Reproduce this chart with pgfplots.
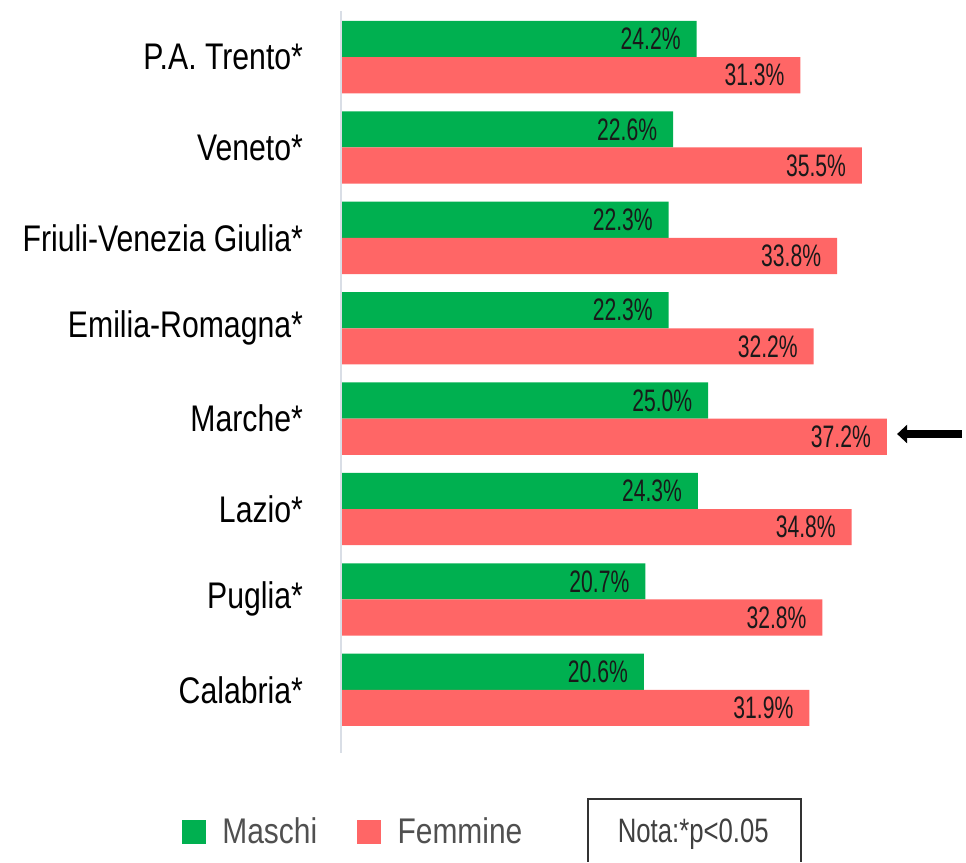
\documentclass[border=0pt]{standalone}
\usepackage{fontspec}
\setmainfont{Liberation Sans}[FakeStretch=0.815]
\newfontfamily\valfont{Liberation Sans}[FakeStretch=0.68]
\newfontfamily\legfont{Liberation Sans}[FakeStretch=0.84]
\newfontfamily\notafont{Liberation Sans}[FakeStretch=0.76]
\usepackage{pgfplots}
\pgfplotsset{compat=1.18}
\usetikzlibrary{arrows.meta}
\definecolor{cgreen}{RGB}{0,176,80}
\definecolor{cred}{RGB}{255,102,102}
\definecolor{axgray}{RGB}{217,222,230}
\definecolor{leggray}{RGB}{80,80,80}
\begin{document}
\begin{tikzpicture}
\begin{axis}[
  xbar,
  x=7.35pt, y=45.37pt,
  xmin=0, xmax=42.3, ymin=-1.901, ymax=7.632,
  axis line style={draw=none},
  tick style={draw=none},
  major tick length=0pt,
  xtick=\empty,
  ytick={0,...,7},
  yticklabels={Calabria*,Puglia*,Lazio*,Marche*,Emilia-Romagna*,Friuli-Venezia Giulia*,Veneto*,P.A. Trento*},
  yticklabel style={anchor=east, inner sep=0pt, xshift=-19.5pt, font=\fontsize{18.6}{20}\selectfont, text=black},
  bar width=18.15pt,
  clip=false,
  point meta=explicit symbolic,
  nodes near coords,
  every node near coord/.append style={anchor=east, xshift=-7.8pt, inner sep=0pt, font=\valfont\fontsize{15.6}{17}\selectfont, text=black!90},
  legend columns=2,
  legend style={draw=none, fill=none, at={(axis cs:-10.97,-1.570)}, anchor=west, inner sep=0pt,
    font=\legfont\fontsize{17.9}{19}\selectfont, text=leggray,
    /tikz/every odd column/.append style={column sep=6.3pt},
    /tikz/every even column/.append style={column sep=18pt}},
  legend image code/.code={\fill[#1] (0pt,-6pt) rectangle (12pt,6pt);},
]
\draw[axgray, line width=1pt] (axis cs:-0.05,7.51) -- (axis cs:-0.05,-0.70);
\addplot[fill=cgreen, draw=none, bar shift=9.075pt] coordinates {
  (24.2,7) [24.2\%]
  (22.6,6) [22.6\%]
  (22.3,5) [22.3\%]
  (22.3,4) [22.3\%]
  (25.0,3) [25.0\%]
  (24.3,2) [24.3\%]
  (20.7,1) [20.7\%]
  (20.6,0) [20.6\%]
};
\addlegendentry{Maschi}
\addplot[fill=cred, draw=none, bar shift=-9.075pt] coordinates {
  (31.3,7) [31.3\%]
  (35.5,6) [35.5\%]
  (33.8,5) [33.8\%]
  (32.2,4) [32.2\%]
  (37.2,3) [37.2\%]
  (34.8,2) [34.8\%]
  (32.8,1) [32.8\%]
  (31.9,0) [31.9\%]
};
\addlegendentry{Femmine}
\path (axis cs:-23.37,-1.901) rectangle (axis cs:42.3,7.632);
\draw[line width=4.5pt, -{Triangle[length=5pt,width=9pt]}] (axis cs:42.3,2.830) -- (axis cs:37.9,2.830);
\draw[black!80, line width=1pt] (axis cs:16.77,-1.901) -- (axis cs:16.77,-1.203) -- (axis cs:31.33,-1.203) -- (axis cs:31.33,-1.901);
\node[anchor=base, inner sep=0pt, font=\notafont\fontsize{17}{18}\selectfont, text=black!75] at (axis cs:23.98,-1.692) {Nota:*p<0.05};
\end{axis}
\end{tikzpicture}
\end{document}
